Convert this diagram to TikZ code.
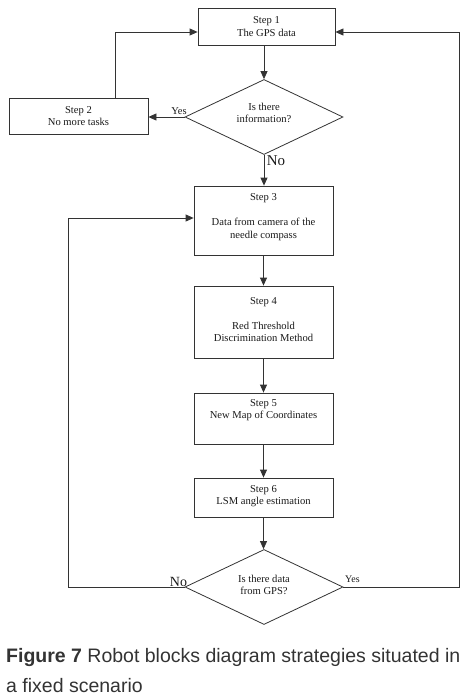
\documentclass[tikz,border=0pt]{standalone}
\usepackage{fontspec}
\setmainfont{Liberation Serif}
\newfontfamily\capfont{Liberation Sans}
\usetikzlibrary{shapes.geometric,arrows.meta}
\definecolor{ln}{HTML}{333333}
\definecolor{tx}{HTML}{1A1A1A}
\definecolor{captx}{HTML}{333333}
\begin{document}
\begin{tikzpicture}[x=1pt,y=-1pt,
  line/.style={draw=ln, line width=0.8pt},
  arr/.style={line, -{Triangle[length=8pt,width=7pt]}},
  box/.style={draw=ln, line width=0.8pt, rectangle, minimum width=139pt, inner sep=0pt},
  dia/.style={draw=ln, line width=0.8pt, diamond, minimum width=158pt, minimum height=75pt, inner sep=0pt, shape aspect=2},
  txt/.style={text=tx, font=\fontsize{10.6}{12.5}\selectfont, align=center, inner sep=0pt},
  lab/.style={text=tx, inner sep=0pt},
  captext/.style={anchor=base west, inner sep=0pt, text=captx, font=\capfont\fontsize{19.5}{30}\selectfont}
]
\useasboundingbox (0,0) rectangle (474,696);
% boxes
\node[box, minimum width=137pt, minimum height=37pt] (s1) at (266.5,26.5) {};
\node[txt] (t1) at (s1.center) {Step 1\\The GPS data};
\node[box, minimum height=36pt] (s2) at (78.5,116) {};
\node[txt] (t2) at (s2.center) {Step 2\\No more tasks};
\node[dia] (d1) at (264,117) {};
\node[txt] (tq1) at ([yshift=4pt]d1.center) {Is there\\information?};
\node[box, minimum height=69pt] (s3) at (263.5,220.5) {};
\node[txt] (t3) at ([yshift=3.5pt]s3.center) {Step 3\\[13pt]Data from camera of the\\needle compass};
\node[box, minimum height=72pt] (s4) at (263.5,322) {};
\node[txt] (t4) at ([yshift=2pt]s4.center) {Step 4\\[12pt]Red Threshold\\Discrimination Method};
\node[box, minimum height=51pt] (s5) at (263.5,418.5) {};
\node[txt] (t5) at ([yshift=8.5pt]s5.center) {Step 5\\New Map of Coordinates};
\node[box, minimum height=39pt] (s6) at (263.5,497.5) {};
\node[txt] (t6) at ([yshift=1.5pt]s6.center) {Step 6\\LSM angle estimation};
\node[dia] (d2) at (264,587) {};
\node[txt] (tq2) at ([yshift=2pt]d2.center) {Is there data\\from GPS?};
% connectors
\coordinate (cl) at (68,587);
\coordinate (cr) at (459,587);
\draw[arr] (d1.north |- s1.south) -- (d1.north);
\draw[arr] (d1.west) -- (d1.west -| s2.east);
\draw[arr] ([xshift=36.5pt]s2.north) |- ([yshift=-5.5pt]s1.west);
\draw[arr] (d1.south) -- (d1.south |- s3.north);
\draw[arr] (s3.south) -- (s4.north);
\draw[arr] (s4.south) -- (s5.north);
\draw[arr] (s5.south) -- (s6.north);
\draw[arr] (s6.south) -- (s6.south |- d2.north);
\draw[arr] (d2.west) -- (cl) |- ([yshift=2.5pt]s3.west);
\draw[arr] (d2.east) -- (cr) |- ([yshift=-5.5pt]s1.east);
% labels
\node[lab, font=\fontsize{10.5}{12}\selectfont] (ly1) at (179,111) {Yes};
\node[lab, font=\fontsize{15}{16}\selectfont] (ln1) at (276,161) {No};
\node[lab, font=\fontsize{14}{15}\selectfont] (ln2) at (178.5,581.5) {No};
\node[lab, font=\fontsize{10}{12}\selectfont] (ly2) at (352.5,579) {Yes};
% caption
\node[captext] (cap1) at (6,662) {\textbf{Figure 7} Robot blocks diagram strategies situated in};
\node[captext] (cap2) at (6,692) {a fixed scenario};
\end{tikzpicture}
\end{document}
